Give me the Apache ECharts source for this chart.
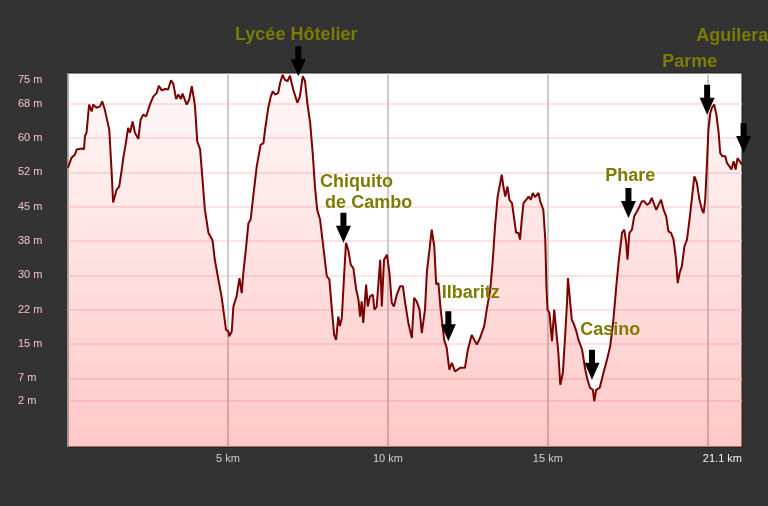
<!DOCTYPE html>
<html><head><meta charset="utf-8">
<script src="https://cdn.jsdelivr.net/npm/echarts@6/dist/echarts.min.js"></script>
<style>html,body{margin:0;padding:0;background:#333333;}#c{width:768px;height:506px;}</style>
</head><body><div id="c"></div>
<script>
// Distance along the route (km) and elevation (m)
const distanceKm = [
0, 0.11, 0.22, 0.27, 0.43, 0.50, 0.53, 0.58, 0.66, 0.74, 0.79, 0.89, 1.00, 1.07, 1.15, 1.21, 1.29, 1.36, 1.41, 1.52, 1.60, 1.68, 1.73, 1.80, 1.88, 1.94, 2.02, 2.09, 2.20, 2.27, 2.35, 2.44, 2.48, 2.56, 2.67, 2.77, 2.84, 2.93, 3.03, 3.13, 3.22, 3.29, 3.38, 3.45, 3.53, 3.58, 3.71, 3.79, 3.87, 3.94, 3.97, 4.04, 4.13, 4.18, 4.28, 4.39, 4.52, 4.59, 4.73, 4.80, 4.94, 5.01, 5.04, 5.12,
5.17, 5.27, 5.36, 5.43, 5.48, 5.56, 5.64, 5.71, 5.79, 5.90, 6.02, 6.11, 6.16, 6.26, 6.34, 6.40, 6.47, 6.57, 6.63, 6.71, 6.78, 6.86, 6.94, 7.04, 7.17, 7.25, 7.34, 7.41, 7.48, 7.57, 7.65, 7.72, 7.79, 7.88, 7.98, 8.09, 8.17, 8.25, 8.32, 8.38, 8.45, 8.50, 8.56, 8.63, 8.69, 8.76, 8.84, 8.92, 9.01, 9.08, 9.13, 9.18, 9.23, 9.32, 9.37, 9.44, 9.53, 9.58, 9.65, 9.76, 9.81, 9.88, 9.97, 10.05, 10.12, 10.19, 10.28, 10.38, 10.47, 10.54, 10.64, 10.75, 10.82, 10.90, 10.99, 11.06, 11.16, 11.22, 11.30, 11.37, 11.45,
11.51, 11.58, 11.65, 11.76, 11.84, 11.92, 12.00, 12.10, 12.26, 12.41, 12.49, 12.62, 12.70, 12.78, 12.88, 13.01, 13.09, 13.20, 13.28, 13.35, 13.43, 13.49, 13.56, 13.61, 13.67, 13.74, 13.80, 13.88, 13.95, 14.01, 14.08, 14.13, 14.19, 14.24, 14.32, 14.40, 14.47, 14.53, 14.60, 14.71, 14.76, 14.86, 14.92, 14.96, 14.99, 15.05, 15.13, 15.20, 15.26, 15.33, 15.39, 15.47, 15.54, 15.60, 15.63, 15.70, 15.75, 15.80, 15.89, 15.96, 16.07, 16.12, 16.17, 16.24, 16.32, 16.41, 16.45, 16.51, 16.62, 16.74, 16.85, 16.95, 17.05, 17.14, 17.21, 17.32, 17.39, 17.45, 17.49, 17.55, 17.63, 17.70, 17.79, 17.87, 17.94, 18.01, 18.10, 18.18, 18.25, 18.33, 18.39, 18.46, 18.54, 18.62, 18.70, 18.77, 18.85, 18.93, 19.01, 19.06, 19.12, 19.19, 19.27, 19.35, 19.43, 19.51, 19.58, 19.66, 19.74, 19.82, 19.87, 19.92, 19.98, 20.02, 20.08, 20.13, 20.20, 20.27, 20.34, 20.39, 20.46, 20.55, 20.60, 20.68, 20.74, 20.81, 20.87, 20.93, 20.99, 21.07
];
const elevationM = [
53.5, 55.7, 56.4, 57.5, 57.7, 57.5, 60.4, 61.2, 67.3, 65.8, 67.3, 66.6, 66.9, 68.0, 66.2, 66.6, 61.8, 53.1, 45.9, 48.7, 49.4, 53.1, 55.7, 58.5, 62.2, 61.2, 63.6, 61.2, 59.8, 64.0, 65.1, 64.7, 65.5, 67.3, 69.1, 69.8, 71.4, 70.4, 70.7, 70.6, 72.6, 71.9, 68.5, 69.5, 68.5, 69.7, 67.3, 68.4, 71.3, 68.4, 66.9, 59.3, 57.5, 53.1, 44.3, 39.3, 37.6, 33.4, 28.0, 25.4, 18.1, 17.8, 16.7, 17.8,
23.2, 25.4, 29.4, 26.1, 30.5, 35.6, 41.4, 42.2, 47.2, 53.8, 58.5, 58.9, 61.8, 66.6, 69.1, 70.2, 69.5, 69.8, 72.0, 73.8, 72.7, 72.4, 73.6, 70.6, 67.7, 69.1, 73.5, 72.4, 67.7, 63.3, 56.7, 49.4, 44.3, 42.2, 36.3, 29.8, 29.1, 22.5, 17.0, 15.9, 21.0, 18.9, 20.7, 29.8, 37.1, 35.6, 32.3, 31.6, 26.9, 24.7, 21.0, 24.3, 19.6, 28.0, 23.2, 25.4, 25.8, 22.5, 23.2, 33.4, 23.2, 33.4, 34.5, 30.5, 24.0, 23.2, 25.8, 27.6, 27.6, 24.0, 19.6, 16.3, 25.1, 24.3, 22.5, 17.4, 22.5, 30.8, 35.6, 40.0, 36.3,
28.0, 28.3, 22.5, 15.9, 14.1, 9.4, 10.9, 9.0, 9.8, 9.8, 13.4, 17.0, 15.9, 14.9, 16.3, 18.9, 22.5, 26.9, 33.4, 40.7, 47.2, 49.4, 52.0, 49.4, 47.2, 49.4, 46.5, 45.8, 42.2, 39.3, 39.3, 37.8, 42.5, 45.8, 46.5, 47.2, 46.5, 48.0, 47.1, 48.0, 46.2, 44.3, 37.8, 26.9, 22.5, 21.8, 15.6, 22.5, 18.1, 13.0, 6.1, 8.7, 16.7, 24.0, 29.4, 24.0, 20.3, 19.6, 17.8, 15.9, 13.8, 13.8, 9.4, 7.2, 5.4, 5.0, 2.5, 5.0, 5.4, 8.7, 11.6, 14.5, 20.3, 27.6, 32.7, 39.3, 40.0, 37.1, 33.4, 39.3, 40.0, 42.9, 44.0, 45.1, 46.2, 46.2, 45.4, 45.8, 46.9, 45.4, 44.3, 45.4, 46.5, 44.3, 42.9, 39.6, 39.3, 37.8, 33.4, 28.3, 30.5, 32.0, 36.3, 37.8, 42.2, 47.2, 51.6, 50.2, 46.5, 44.3, 43.6, 46.5, 55.3, 61.8, 65.5, 66.6, 67.3, 65.1, 61.1, 56.7, 56.0, 56.0, 54.5, 53.8, 53.1, 54.9, 53.1, 55.6, 56.0, 54.2
];

// Axis ticks and labels
const yTickValues = [2.5, 7.5, 15, 22.5, 30, 37.5, 45, 52.5, 60, 67.5];
const yLabelValues = [2.5, 7.5, 15, 22.5, 30, 37.5, 45, 52.5, 60, 67.5, 72.7];
const yLabelTexts = ['2 m', '7 m', '15 m', '22 m', '30 m', '38 m', '45 m', '52 m', '60 m', '68 m', '75 m'];
const xTickValues = [0, 5, 10, 15, 20];
const xLabelValues = [5, 10, 15, 21.07];
const xLabelTexts = ['5 km', '10 km', '15 km', '21.1 km'];

// Landmarks (arrow tip position: km, m)
const landmarkNames = ['Lycée Hôtelier', 'Chiquito\n de Cambo', 'Ilbaritz', 'Casino', 'Phare', 'Parme', 'Aguilera'];
const landmarkKm = [7.20, 8.61, 11.89, 16.38, 17.52, 19.98, 21.12];
const landmarkElev = [73.5, 37.1, 15.6, 7.2, 42.5, 65.1, 56.7];

// label placement relative to each arrow (style)
const labelPlacement = [[-55.8, -11.2], [-15.8, -20.5], [0.9, -18], [-4.2, -19.5], [-15.8, -11.8], [-37.5, -22.5], [-39.8, -86.8]];

const FONT = 'Liberation Sans, Arial, Helvetica, sans-serif';
function lookup(vals, texts, v) {
  for (let i = 0; i < vals.length; i++) if (Math.abs(vals[i] - v) < 1e-6) return texts[i];
  return '';
}

const chart = echarts.init(document.getElementById('c'), null, {renderer: 'canvas'});
chart.setOption({
  backgroundColor: '#333333',
  animation: false,
  grid: {
    left: 68, right: 26, top: 73, bottom: 59,
    show: true, backgroundColor: '#ffffff', borderColor: '#1c1c1c', borderWidth: 1
  },
  xAxis: {
    type: 'value', min: 0, max: 21.07,
    axisLine: {show: false},
    axisTick: {show: false, customValues: xTickValues},
    splitLine: {show: true, lineStyle: {color: '#bbbbbb', width: 1.5}},
    axisLabel: {
      customValues: xLabelValues,
      alignMaxLabel: 'right',
      margin: 6,
      fontSize: 11, fontFamily: FONT, color: '#cfcfcf',
      formatter: v => {
        const t = lookup(xLabelValues, xLabelTexts, v);
        return v === xLabelValues[xLabelValues.length - 1] ? '{e|' + t + '}' : t;
      },
      rich: {e: {color: '#f2f2f2', fontSize: 11, fontFamily: FONT}}
    }
  },
  yAxis: {
    type: 'value', min: -7.5, max: 74.2,
    axisLine: {show: false},
    axisTick: {show: false, customValues: yTickValues},
    splitLine: {show: true, lineStyle: {color: '#ffdada', width: 1.5}},
    axisLabel: {
      customValues: yLabelValues,
      align: 'left', margin: 50,
      fontSize: 11, fontFamily: FONT, color: '#f2c2c2',
      formatter: v => lookup(yLabelValues, yLabelTexts, v)
    }
  },
  series: [
    {
      type: 'line',
      data: distanceKm.map((d, i) => [d, elevationM[i]]),
      showSymbol: false, symbol: 'none', smooth: false,
      lineStyle: {color: '#7d0000', width: 2},
      areaStyle: {
        origin: 'start',
        color: new echarts.graphic.LinearGradient(0, 0, 0, 1, [
          {offset: 0, color: 'rgba(255,0,0,0.03)'},
          {offset: 1, color: 'rgba(255,0,0,0.31)'}
        ])
      },
      silent: true, z: 2
    },
    {
      type: 'scatter',
      data: landmarkNames.map((n, i) => ({
        name: n, value: [landmarkKm[i], landmarkElev[i]],
        label: {position: labelPlacement[i]}
      })),
      symbol: 'path://M4.5,0 L10.5,0 L10.5,13 L15,13 L7.5,30 L0,13 L4.5,13 Z',
      symbolSize: [15, 30], symbolOffset: [0, '-50%'],
      itemStyle: {color: '#000000', opacity: 1},
      clip: false, silent: true, z: 5,
      label: {
        show: true, formatter: '{b}', color: '#7c7c00', opacity: 1,
        fontSize: 18, fontWeight: 'bold', fontFamily: FONT,
        align: 'left', verticalAlign: 'middle', lineHeight: 21
      }
    }
  ]
});
</script></body></html>
